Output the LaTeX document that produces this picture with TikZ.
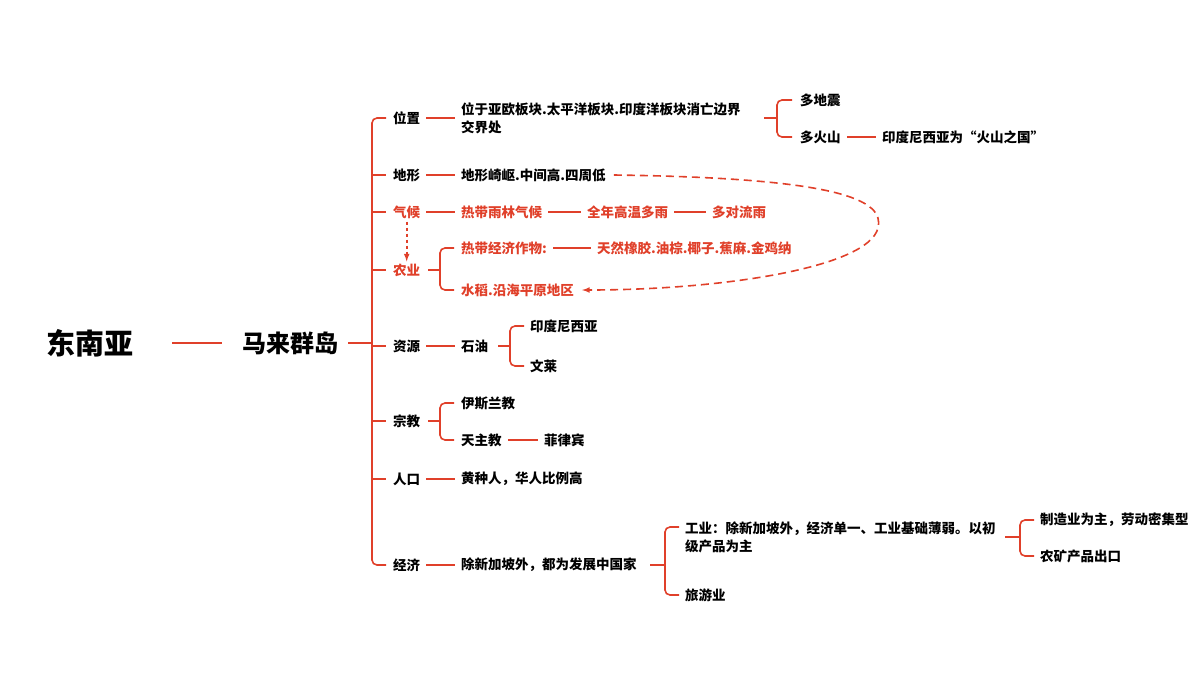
\documentclass[tikz,border=0pt]{standalone}
\usepackage{fontspec}
\setmainfont{Noto Sans CJK SC}[BoldFont={* Black}]
\usetikzlibrary{positioning,calc}
\definecolor{mmred}{HTML}{E0402A}
\tikzset{
	t/.style={anchor=west,inner sep=0pt,font=\fontsize{13.5}{18}\selectfont\bfseries,align=left},
	r/.style={t,text=mmred},
	ln/.style={draw=mmred,line width=1.6pt,shorten <=6pt,shorten >=6pt},
	br/.style={draw=mmred,line width=1.6pt,rounded corners=5pt},
}
\begin{document}
\begin{tikzpicture}[x=1pt,y=-1pt]
	\useasboundingbox (0,0) rectangle (1200,675);
	% root
	\node[inner sep=0pt,font=\fontsize{29}{34}\selectfont\bfseries] (root) at (90,343) {东南亚};
	\node[inner sep=0pt,font=\fontsize{24}{29}\selectfont\bfseries] (mal) at (290,343) {马来群岛};
	\draw[line width=2pt,draw=mmred] (172,343) -- (222,343);
	\draw[br] (mal.east) ++(10,0) -- (372,343);
	\draw[br] (386,118) -- (372,118) -- (372,565) -- (386,565);
	\foreach \y in {175,212,270,346,421,479} \draw[br] (372,\y) -- (386,\y);

	% level 1
	\node[t] (wz) at (393,118) {位置};
	\node[t] (dx) at (393,175) {地形};
	\node[r] (qh) at (393,212) {气候};
	\node[r] (ny) at (393,270) {农业};
	\node[t] (zy) at (393,346) {资源};
	\node[t] (zj) at (393,421) {宗教};
	\node[t] (rk) at (393,479) {人口};
	\node[t] (jj) at (393,565) {经济};

	%位置
	\node[t] (wz1) at (461,118) {位于亚欧板块.太平洋板块.印度洋板块消亡边界\\交界处};
	\draw[ln] (wz.east) -- (wz1.west |- wz.east);
	\node[t] (dz) at (800,100) {多地震};
	\node[t] (hs) at (800,137) {多火山};
	\node[t] (hs1) at (882,137) {印度尼西亚为“火山之国”};
	\draw[br] (764,118) -- (777,118);
	\draw[br] (792,100) -- (777,100) -- (777,137) -- (792,137);
	\draw[ln] (hs.east) -- (hs1.west);

	%地形
	\node[t] (dx1) at (461,175) {地形崎岖.中间高.四周低};
	\draw[ln] (dx.east) -- (dx1.west);

	%气候
	\node[r] (qh1) at (461,212) {热带雨林气候};
	\node[r] (qh2) at (587,212) {全年高温多雨};
	\node[r] (qh3) at (712,212) {多对流雨};
	\draw[ln] (qh.east) -- (qh1.west);
	\draw[ln] (qh1.east) -- (qh2.west);
	\draw[ln] (qh2.east) -- (qh3.west);
	\draw[ln,dashed,-latex,shorten <=3pt,shorten >=2pt] (qh.south) -- (ny.north);

	%农业
	\node[r] (ny1) at (461,248) {热带经济作物:};
	\node[r] (ny2) at (597,248) {天然橡胶.油棕.椰子.蕉麻.金鸡纳};
	\node[r] (ny3) at (461,290) {水稻.沿海平原地区};
	\draw[br] (428,270) -- (440,270);
	\draw[br] (454,248) -- (440,248) -- (440,290) -- (454,290);
	\draw[ln] (ny1.east) -- (ny2.west);
	\draw[draw=mmred,line width=1.6pt,dash pattern=on 8pt off 5pt,-latex]
		($(dx1.east)+(8,0)$) .. controls (840,178) and (885,200) .. (878,228)
		.. controls (868,268) and (720,290) .. ($(ny3.east)+(8,0)$);

	%资源
	\node[t] (sy) at (461,346) {石油};
	\draw[ln] (zy.east) -- (sy.west);
	\node[t] (zy1) at (530,326) {印度尼西亚};
	\node[t] (zy2) at (530,366) {文莱};
	\draw[br] (498,346) -- (510,346);
	\draw[br] (524,326) -- (510,326) -- (510,366) -- (524,366);

	%宗教
	\node[t] (zj1) at (461,403) {伊斯兰教};
	\node[t] (zj2) at (461,440) {天主教};
	\node[t] (zj3) at (544,440) {菲律宾};
	\draw[br] (428,421) -- (440,421);
	\draw[br] (454,403) -- (440,403) -- (440,440) -- (454,440);
	\draw[ln] (zj2.east) -- (zj3.west);

	%人口
	\node[t] (rk1) at (461,479) {黄种人，华人比例高};
	\draw[ln] (rk.east) -- (rk1.west);

	%经济
	\node[t] (jj1) at (461,565) {除新加坡外，都为发展中国家};
	\draw[ln] (jj.east) -- (jj1.west);
	\node[t] (gy) at (685,537) {工业：除新加坡外，经济单一、工业基础薄弱。以初\\级产品为主};
	\node[t] (ly) at (685,595) {旅游业};
	\draw[br] (650,565) -- (665,565);
	\draw[br] (679,527) -- (665,527) -- (665,595) -- (679,595);
	\node[t] (gy1) at (1040,520) {制造业为主，劳动密集型};
	\node[t] (gy2) at (1040,556) {农矿产品出口};
	\draw[br] (1005,537) -- (1020,537);
	\draw[br] (1034,520) -- (1020,520) -- (1020,556) -- (1034,556);
\end{tikzpicture}
\end{document}
